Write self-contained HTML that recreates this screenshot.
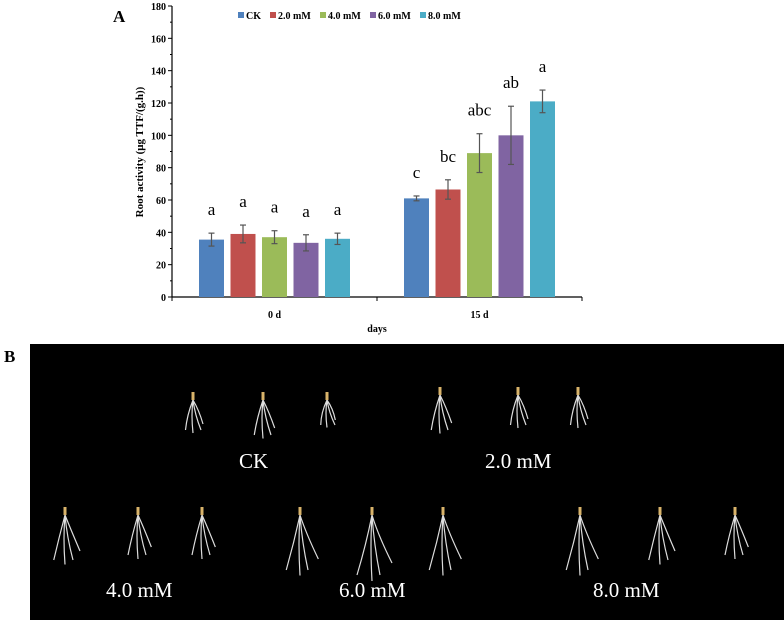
<!DOCTYPE html>
<html><head><meta charset="utf-8">
<style>body{margin:0;background:#fff;width:784px;height:620px;overflow:hidden}svg{display:block}</style>
</head><body>
<svg width="784" height="620" viewBox="0 0 784 620" xmlns="http://www.w3.org/2000/svg" font-family="Liberation Serif, serif">
<text x="113" y="22" font-size="17" font-weight="bold">A</text>
<g id="yaxis"></g>
<g id="bars"></g>
<g id="legend"></g>
<text transform="translate(143,152) rotate(-90)" text-anchor="middle" font-size="11" font-weight="bold">Root activity (μg TTF/(g.h))</text>
<text x="377" y="332" text-anchor="middle" font-size="10" font-weight="bold">days</text>
<text x="4" y="362" font-size="17" font-weight="bold">B</text>
<rect x="30" y="344" width="754" height="276" fill="#000"/>
<g fill="#fff" font-size="21">
<text x="239" y="468">CK</text><text x="485" y="468">2.0 mM</text>
<text x="106" y="597">4.0 mM</text><text x="339" y="597">6.0 mM</text><text x="593" y="597">8.0 mM</text>
</g>
<g id="plants" stroke="#ddd" stroke-width="1.2" fill="none"></g>
<script>
const categories=["0 d","15 d"];
const seriesNames=["CK","2.0 mM","4.0 mM","6.0 mM","8.0 mM"];
const colors=["#4F81BD","#C0504D","#9BBB59","#8064A2","#4BACC6"];
const values0=[35.5,39,37,33.5,36];
const values15=[61,66.5,89,100,121];
const err0=[4,5.5,4,5,3.5];
const err15=[1.5,6,12,18,7];
const letters0=["a","a","a","a","a"];
const letters15=["c","bc","abc","ab","a"];
const yTicks=[0,20,40,60,80,100,120,140,160,180];
const NS="http://www.w3.org/2000/svg";
function el(t,a,p){const e=document.createElementNS(NS,t);for(const k in a)e.setAttribute(k,a[k]);p.appendChild(e);return e;}
const x0=172,x1=582,yb=297,yt=6;
const ys=v=>yb-(v/180)*(yb-yt);
const ya=document.getElementById('yaxis');
let ax=el('line',{x1:x0,y1:yt,x2:x0,y2:yb,stroke:'#000','stroke-width':1.2},ya);

let xa=el('line',{x1:x0,y1:yb,x2:x1,y2:yb,stroke:'#000','stroke-width':1.2},ya);

yTicks.forEach(v=>{
 el('line',{x1:x0-4,y1:ys(v),x2:x0,y2:ys(v),stroke:'#000'},ya);
 el('line',{x1:x0-2,y1:ys(v+10),x2:x0,y2:ys(v+10),stroke:'#000'},ya);
 const t=el('text',{x:x0-6,y:ys(v)+4,'text-anchor':'end','font-size':10,'font-weight':'bold'},ya);t.textContent=v;
 
});
const gw=(x1-x0)/categories.length;
[x0,x0+gw,x1].forEach(x=>el('line',{x1:x,y1:yb,x2:x,y2:yb+4,stroke:'#000'},ya));
const bg=document.getElementById('bars');
const groups=[[values0,err0,letters0],[values15,err15,letters15]];
const bw=25,step=31.5;
categories.forEach((c,gi)=>{
 const cx=x0+gw*(gi+0.5);
 const t=el('text',{x:cx,y:yb+21,'text-anchor':'middle','font-size':10,'font-weight':'bold'},bg);t.textContent=c;
 
 const [vals,errs,lets]=groups[gi];
 vals.forEach((v,i)=>{
  const bx=cx+(i-2)*step;
  const r=el('rect',{x:bx-bw/2,y:ys(v),width:bw,height:yb-ys(v),fill:colors[i]},bg);
  
  const e=errs[i];
  el('line',{x1:bx,y1:ys(v+e),x2:bx,y2:ys(v-e),stroke:'#555','stroke-width':1.2},bg);
  el('line',{x1:bx-3,y1:ys(v+e),x2:bx+3,y2:ys(v+e),stroke:'#555','stroke-width':1.2},bg);
  el('line',{x1:bx-3,y1:ys(v-e),x2:bx+3,y2:ys(v-e),stroke:'#555','stroke-width':1.2},bg);
  const lt=el('text',{x:bx,y:ys(v+e)-18,'text-anchor':'middle','font-size':17},bg);lt.textContent=lets[i];
  
 });
});
const lg=document.getElementById('legend');
const lx=[238,270,320,370,420];
seriesNames.forEach((n,i)=>{
 el('rect',{x:lx[i],y:12,width:6,height:6,fill:colors[i]},lg);
 const t=el('text',{x:lx[i]+8,y:19,'font-size':10,'font-weight':'bold'},lg);t.textContent=n;
 
});
const pl=document.getElementById('plants');
const pos=[[193,400,30],[263,400,35],[327,400,25],[440,395,35],[518,395,30],[578,395,30],
[65,515,45],[138,515,40],[202,515,40],[300,515,55],[372,515,60],[443,515,55],[580,515,55],[660,515,45],[735,515,40]];
pos.forEach(([x,y,h])=>{
 el('path',{d:`M${x} ${y} q-6 ${h/2} -${h/4} ${h} M${x} ${y} q2 ${h/2} 8 ${h} M${x} ${y} q-2 ${h/2} 0 ${h*1.1} M${x} ${y} q6 ${h/3} ${h/3} ${h*0.8}`},pl);
 el('path',{d:`M${x} ${y} l0 -8`,stroke:'#d9b36a','stroke-width':3},pl);
});
</script>
</svg>
</body></html>
